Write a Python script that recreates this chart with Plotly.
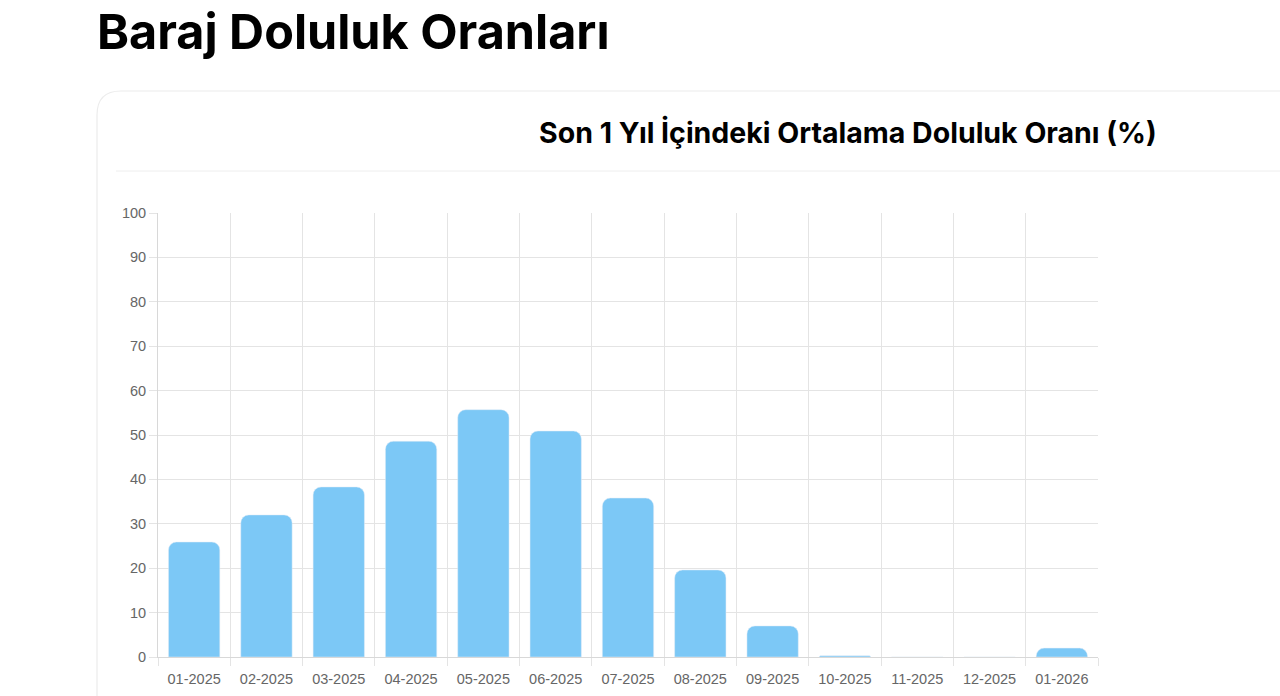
import plotly.graph_objects as go

months = ["01-2025", "02-2025", "03-2025", "04-2025", "05-2025", "06-2025", "07-2025",
          "08-2025", "09-2025", "10-2025", "11-2025", "12-2025", "01-2026"]
doluluk = [25.9, 32.0, 38.3, 48.6, 55.7, 50.9, 35.8, 19.6, 7.0, 0.3, 0.0, 0.0, 2.0]

page_title = "Baraj Doluluk Oranları"
chart_title = "Son 1 Yıl İçindeki Ortalama Doluluk Oranı (%)"

W, H = 1280, 696
# plot area in page pixels (used to place the card decorations)
L, R, T, B = 158, 1098, 213, 657


def px(x):
    return (x - L) / (R - L)


def py(y):
    return (B - y) / (B - T)


fig = go.Figure(go.Bar(
    x=months,
    y=doluluk,
    marker=dict(color="#7cc8f6", cornerradius=8),
    showlegend=False,
))

# card outline with rounded top-left corner
r = 24
card = (f"M {px(97)} {py(720)} L {px(97)} {py(91 + r)} "
        f"Q {px(97)} {py(91)} {px(97 + r)} {py(91)} L {px(1300)} {py(91)}")

fig.update_layout(
    width=W,
    height=H,
    margin=dict(l=L, r=W - R, t=T, b=H - B, autoexpand=False),
    paper_bgcolor="white",
    plot_bgcolor="white",
    bargap=0.29,
    font=dict(family="Liberation Sans, Arial, sans-serif", size=14.5, color="#666"),
    shapes=[
        dict(type="path", path=card, xref="paper", yref="paper",
             line=dict(color="#ececec", width=1.2), layer="below"),
        dict(type="line", xref="paper", yref="paper", x0=px(116), x1=px(1290),
             y0=py(171), y1=py(171), line=dict(color="#eeeeee", width=1)),
    ],
    annotations=[
        dict(text=f"<b>{page_title}</b>", xref="paper", yref="paper",
             x=px(95), y=py(31), xanchor="left", yanchor="middle", showarrow=False,
             font=dict(family="Inter", size=48.5, color="#000")),
        dict(text=f"<b>{chart_title}</b>", xref="paper", yref="paper",
             x=px(848), y=py(132), xanchor="center", yanchor="middle", showarrow=False,
             font=dict(family="Inter", size=28.5, color="#000")),
    ],
)

fig.update_xaxes(
    type="category",
    tickson="boundaries",
    showgrid=True,
    gridcolor="#e4e4e4",
    showline=True,
    linecolor="#d8d8d8",
    ticks="outside",
    ticklen=8,
    tickcolor="#e4e4e4",
    ticklabelstandoff=9,
    automargin=False,
)
fig.update_yaxes(
    range=[0, 100],
    dtick=10,
    showgrid=True,
    gridcolor="#e4e4e4",
    zeroline=False,
    showline=True,
    linecolor="#d8d8d8",
    ticks="outside",
    ticklen=8,
    tickcolor="#e4e4e4",
    automargin=False,
)

# drop the default page margin so the figure sits at the window corner
fig.write_html(
    "out.html",
    config={"displayModeBar": False},
    post_script="document.body.style.margin='0';document.body.style.overflow='hidden';",
)
